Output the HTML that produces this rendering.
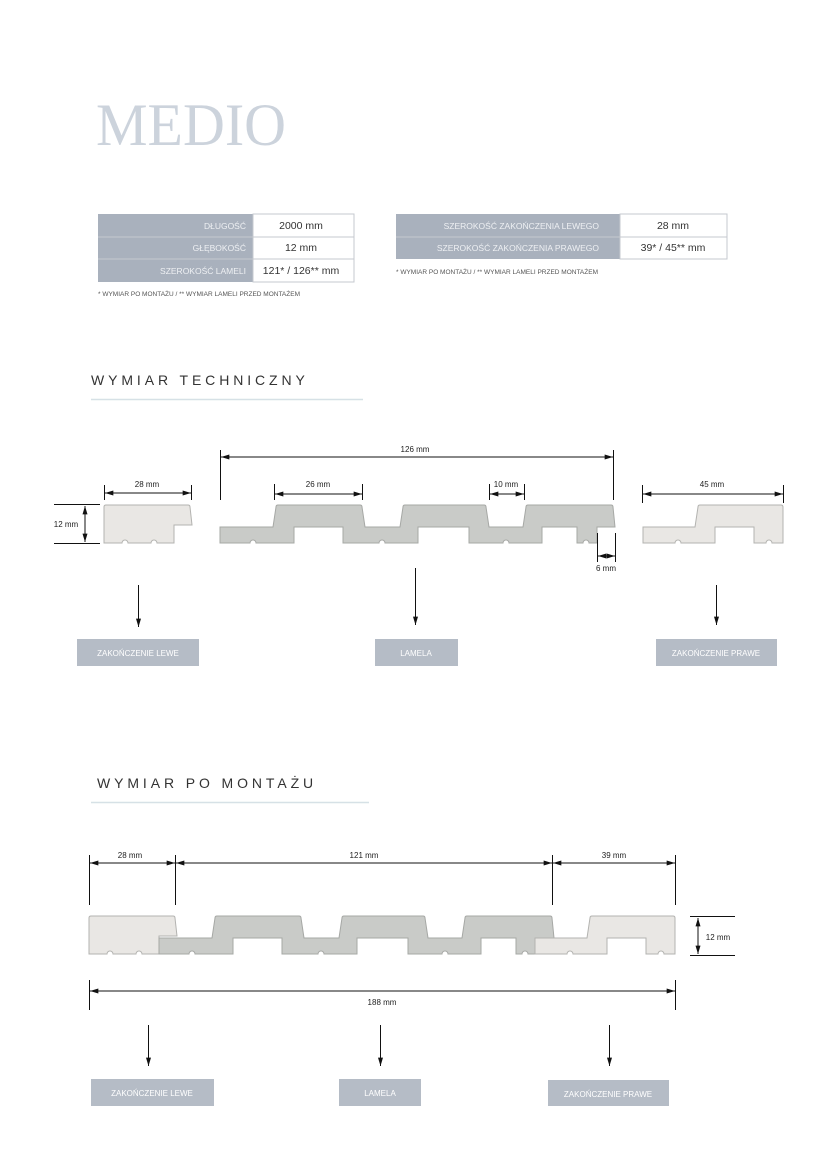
<!DOCTYPE html>
<html><head><meta charset="utf-8"><style>
html,body{margin:0;padding:0;background:#fff}
svg{display:block}
text{font-family:"Liberation Sans",sans-serif}
</style></head><body>
<svg width="826" height="1169" viewBox="0 0 826 1169" xmlns="http://www.w3.org/2000/svg">
<defs>
<marker id="a" viewBox="0 0 10 6" refX="10" refY="3" markerWidth="10" markerHeight="5" markerUnits="userSpaceOnUse" orient="auto-start-reverse"><path d="M0,0L10,3L0,6Z" fill="#111"/></marker>
<path id="lam" d="M220,527 L273,527 L276,507 Q276,505 278,505 L360,505 Q362,505 362,507 L365,527 L400,527 L403,507 Q403,505 405,505 L484,505 Q486,505 486,507 L489,527 L523,527 L526,507 Q526,505 528,505 L611,505 Q613,505 613,507 L615,527 L597,527 L597,543 L589,543 A3 3 0 0 0 583,543 L577,543 L577,527 L542,527 L542,543 L509,543 A3 3 0 0 0 503,543 L469,543 L469,527 L418,527 L418,543 L385,543 A3 3 0 0 0 379,543 L343,543 L343,527 L294,527 L294,543 L256,543 A3 3 0 0 0 250,543 L220,543 Z" fill="#c9cbc8" stroke="#a6a8a5" stroke-width="1"/>
<path id="lp" d="M104,507 Q104,505 106,505 L188,505 Q190,505 190,507 L192,525 L174,525 L174,543 L157,543 A3 3 0 0 0 151,543 L128,543 A3 3 0 0 0 122,543 L104,543 Z" fill="#e9e7e4" stroke="#b3b3b0" stroke-width="1"/>
<path id="rp" d="M643,527 L695,527 L698,507 Q698,505 700,505 L781,505 Q783,505 783,507 L783,543 L772,543 A3 3 0 0 0 766,543 L754,543 L754,527 L715,527 L715,543 L681,543 A3 3 0 0 0 675,543 L643,543 Z" fill="#e9e7e4" stroke="#b3b3b0" stroke-width="1"/>
</defs>

<text x="96" y="145" font-size="60" fill="#ccd3dc" textLength="190" lengthAdjust="spacingAndGlyphs" style="font-family:'Liberation Serif',serif;font-weight:normal">MEDIO</text>

<!-- table 1 -->
<rect x="98" y="214" width="155" height="68" fill="#a9b1bd"/>
<rect x="253" y="214" width="101" height="68" fill="#fff" stroke="#c5c9cf"/>
<line x1="98" y1="237" x2="354" y2="237" stroke="#c5c9cf"/>
<line x1="98" y1="259" x2="354" y2="259" stroke="#c5c9cf"/>
<g font-size="8.5" fill="#eef0f3" text-anchor="end">
<text x="246" y="229">DŁUGOŚĆ</text><text x="246" y="251">GŁĘBOKOŚĆ</text><text x="246" y="274">SZEROKOŚĆ LAMELI</text></g>
<g font-size="10.5" fill="#333" text-anchor="middle">
<text x="301" y="229">2000 mm</text><text x="301" y="251">12 mm</text><text x="301" y="274">121* / 126** mm</text></g>
<text x="98" y="296" font-size="6.5" fill="#555">* WYMIAR PO MONTAŻU / ** WYMIAR LAMELI PRZED MONTAŻEM</text>

<!-- table 2 -->
<rect x="396" y="214" width="224" height="45" fill="#a9b1bd"/>
<rect x="620" y="214" width="107" height="45" fill="#fff" stroke="#c5c9cf"/>
<line x1="396" y1="237" x2="727" y2="237" stroke="#c5c9cf"/>
<g font-size="8.5" fill="#eef0f3" text-anchor="end">
<text x="599" y="229">SZEROKOŚĆ ZAKOŃCZENIA LEWEGO</text><text x="599" y="251">SZEROKOŚĆ ZAKOŃCZENIA PRAWEGO</text></g>
<g font-size="10.5" fill="#333" text-anchor="middle">
<text x="673" y="229">28 mm</text><text x="673" y="251">39* / 45** mm</text></g>
<text x="396" y="274" font-size="6.5" fill="#555">* WYMIAR PO MONTAŻU / ** WYMIAR LAMELI PRZED MONTAŻEM</text>

<!-- section 1 -->
<text x="91" y="385" font-size="14" fill="#333" letter-spacing="3.9">WYMIAR TECHNICZNY</text>
<line x1="91" y1="399.5" x2="363" y2="399.5" stroke="#d6e1e6" stroke-width="1.5"/>

<use href="#lp"/><use href="#lam"/><use href="#rp"/>

<g stroke="#111" stroke-width="1" fill="none">
<line x1="54" y1="504.5" x2="100" y2="504.5"/><line x1="54" y1="543.5" x2="100" y2="543.5"/>
<line x1="85" y1="506" x2="85" y2="542" marker-start="url(#a)" marker-end="url(#a)"/>
<line x1="104.5" y1="485" x2="104.5" y2="500"/><line x1="191.5" y1="485" x2="191.5" y2="500"/>
<line x1="105" y1="493" x2="191" y2="493" marker-start="url(#a)" marker-end="url(#a)"/>
<line x1="220.5" y1="450" x2="220.5" y2="500"/><line x1="613.5" y1="450" x2="613.5" y2="500"/>
<line x1="221" y1="457" x2="613" y2="457" marker-start="url(#a)" marker-end="url(#a)"/>
<line x1="274.5" y1="484" x2="274.5" y2="500"/><line x1="362.5" y1="484" x2="362.5" y2="500"/>
<line x1="275" y1="494" x2="362" y2="494" marker-start="url(#a)" marker-end="url(#a)"/>
<line x1="489.5" y1="484" x2="489.5" y2="500"/><line x1="524.5" y1="484" x2="524.5" y2="500"/>
<line x1="490" y1="494" x2="524" y2="494" marker-start="url(#a)" marker-end="url(#a)"/>
<line x1="597.5" y1="533" x2="597.5" y2="562"/><line x1="615.5" y1="533" x2="615.5" y2="562"/>
<line x1="598" y1="556" x2="615" y2="556" marker-start="url(#a)" marker-end="url(#a)"/>
<line x1="642.5" y1="485" x2="642.5" y2="503"/><line x1="783.5" y1="485" x2="783.5" y2="503"/>
<line x1="643" y1="494" x2="783" y2="494" marker-start="url(#a)" marker-end="url(#a)"/>
<line x1="138.5" y1="585" x2="138.5" y2="627" marker-end="url(#a)"/>
<line x1="415.5" y1="568" x2="415.5" y2="625" marker-end="url(#a)"/>
<line x1="716.5" y1="585" x2="716.5" y2="625" marker-end="url(#a)"/>
</g>
<g font-size="8" fill="#222" text-anchor="middle">
<text x="66" y="527">12 mm</text>
<text x="147" y="487">28 mm</text>
<text x="415" y="452">126 mm</text>
<text x="318" y="487">26 mm</text>
<text x="506" y="487">10 mm</text>
<text x="606" y="571">6 mm</text>
<text x="712" y="487">45 mm</text>
</g>
<rect x="77" y="639" width="122" height="27" fill="#b5bcc6"/>
<rect x="375" y="639" width="83" height="27" fill="#b5bcc6"/>
<rect x="656" y="639" width="121" height="27" fill="#b5bcc6"/>
<g font-size="8" fill="#fff" text-anchor="middle">
<text x="138" y="656">ZAKOŃCZENIE LEWE</text>
<text x="416" y="656">LAMELA</text>
<text x="716" y="656">ZAKOŃCZENIE PRAWE</text>
</g>

<!-- section 2 -->
<text x="97" y="788" font-size="14" fill="#333" letter-spacing="3.9">WYMIAR PO MONTAŻU</text>
<line x1="91" y1="802.5" x2="369" y2="802.5" stroke="#d6e1e6" stroke-width="1.5"/>

<use href="#lp" transform="translate(-15,411)"/>
<use href="#lam" transform="translate(-61,411)"/>
<use href="#rp" transform="translate(-108,411)"/>

<g stroke="#111" stroke-width="1" fill="none">
<line x1="89.5" y1="855" x2="89.5" y2="905"/><line x1="175.5" y1="855" x2="175.5" y2="905"/>
<line x1="552.5" y1="855" x2="552.5" y2="905"/><line x1="675.5" y1="855" x2="675.5" y2="905"/>
<line x1="90" y1="863" x2="175" y2="863" marker-start="url(#a)" marker-end="url(#a)"/>
<line x1="176" y1="863" x2="552" y2="863" marker-start="url(#a)" marker-end="url(#a)"/>
<line x1="553" y1="863" x2="675" y2="863" marker-start="url(#a)" marker-end="url(#a)"/>
<line x1="690" y1="916.5" x2="735" y2="916.5"/><line x1="690" y1="955.5" x2="735" y2="955.5"/>
<line x1="698" y1="918" x2="698" y2="954" marker-start="url(#a)" marker-end="url(#a)"/>
<line x1="89.5" y1="980" x2="89.5" y2="1010"/><line x1="675.5" y1="980" x2="675.5" y2="1010"/>
<line x1="90" y1="991" x2="675" y2="991" marker-start="url(#a)" marker-end="url(#a)"/>
<line x1="148.5" y1="1025" x2="148.5" y2="1066" marker-end="url(#a)"/>
<line x1="380.5" y1="1025" x2="380.5" y2="1066" marker-end="url(#a)"/>
<line x1="609.5" y1="1025" x2="609.5" y2="1066" marker-end="url(#a)"/>
</g>
<g font-size="8" fill="#222" text-anchor="middle">
<text x="130" y="858">28 mm</text>
<text x="364" y="858">121 mm</text>
<text x="614" y="858">39 mm</text>
<text x="718" y="940">12 mm</text>
<text x="382" y="1005">188 mm</text>
</g>
<rect x="91" y="1079" width="123" height="27" fill="#b5bcc6"/>
<rect x="339" y="1079" width="82" height="27" fill="#b5bcc6"/>
<rect x="548" y="1080" width="121" height="26" fill="#b5bcc6"/>
<g font-size="8" fill="#fff" text-anchor="middle">
<text x="152" y="1096">ZAKOŃCZENIE LEWE</text>
<text x="380" y="1096">LAMELA</text>
<text x="608" y="1097">ZAKOŃCZENIE PRAWE</text>
</g>
</svg>
</body></html>
